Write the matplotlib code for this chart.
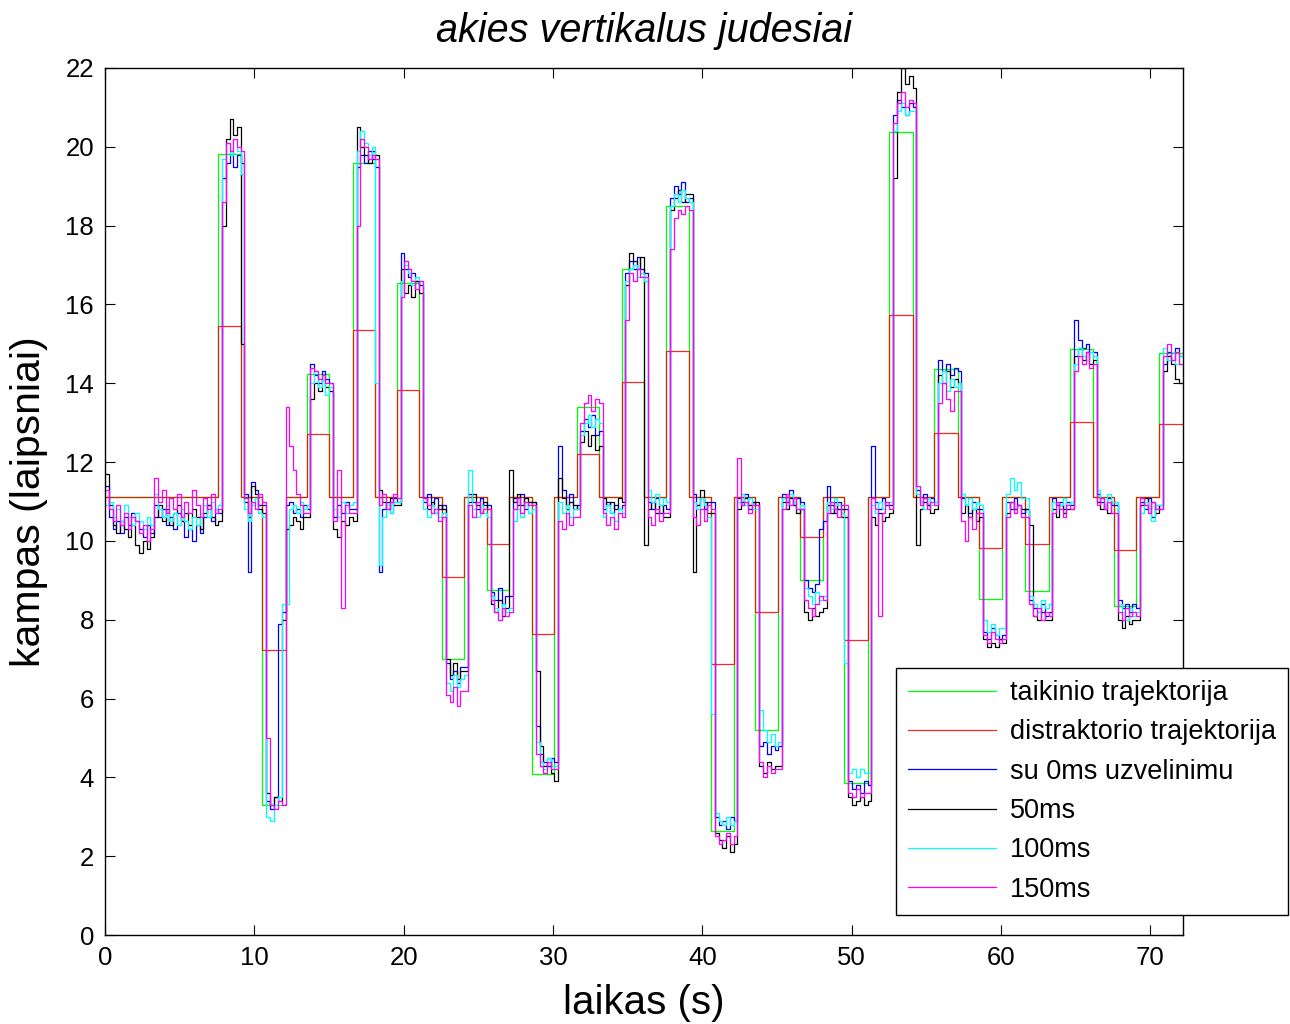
import matplotlib
matplotlib.use("Agg")
import matplotlib.pyplot as plt

plt.rcParams['font.family'] = ['Liberation Sans', 'DejaVu Sans']

# Segment boundaries (s) of the stimulus sequence
seg_edges = [0, 7.6, 9.1, 10.5, 12.1, 13.5, 15.0, 16.6, 18.1, 19.55, 21.0, 22.6,
             24.05, 25.6, 27.05, 28.6, 30.1, 31.6, 33.07, 34.6, 36.1, 37.6, 39.1,
             40.6, 42.1, 43.55, 45.1, 46.55, 48.1, 49.5, 51.1, 52.5, 54.1, 55.5,
             57.1, 58.55, 60.1, 61.6, 63.2, 64.6, 66.2, 67.6, 69.05, 70.6, 72.2]

# Target and distractor angle in each segment (deg)
target_levels = [11.12, 19.83, 11.12, 3.31, 11.12, 14.23, 11.12, 19.6, 11.12, 16.54,
                 11.12, 7.0, 11.12, 8.75, 11.12, 4.08, 11.12, 13.41, 11.12, 16.9,
                 11.12, 18.5, 11.12, 2.65, 11.12, 5.21, 11.12, 9.0, 11.12, 3.86,
                 11.12, 20.38, 11.12, 14.36, 11.12, 8.52, 11.12, 8.74, 11.12, 14.87,
                 11.12, 8.36, 11.12, 14.76]
distractor_levels = [11.12, 15.46, 11.12, 7.23, 11.12, 12.71, 11.12, 15.35, 11.12, 13.83,
                     11.12, 9.08, 11.12, 9.93, 11.12, 7.64, 11.12, 12.21, 11.12, 14.03,
                     11.12, 14.82, 11.12, 6.88, 11.12, 8.19, 11.12, 10.1, 11.12, 7.49,
                     11.12, 15.74, 11.12, 12.75, 11.12, 9.82, 11.12, 9.93, 11.12, 13.02,
                     11.12, 9.78, 11.12, 12.97]

# Eye position samples, one list per segment (evenly spaced inside the segment)
eye_0ms = [
    [11.4, 10.6, 10.3, 10.5, 10.2, 10.6, 10.4, 10.7, 10.5, 10.3, 10.1, 10.4, 10.2, 10.9, 10.6,
     10.8, 10.4, 10.6, 10.3, 10.7, 10.5, 10.1, 10.3, 10.0, 10.4, 10.2, 10.6, 10.9, 10.5, 10.8],
    [10.7, 19.2, 19.6, 19.9, 19.5, 19.8],
    [19.6, 11.2, 9.2, 11.5, 11.3, 10.9],
    [10.9, 3.4, 3.2, 3.5, 7.9, 8.2],
    [10.9, 11.0, 10.7, 10.8, 10.6, 10.9],
    [10.8, 14.5, 14.2, 14.0, 14.3, 14.1],
    [14.0, 10.6, 10.9, 10.7, 11.0, 10.8],
    [10.8, 19.5, 19.8, 19.6, 19.9, 19.7],
    [19.5, 9.2, 10.8, 11.0, 10.7, 11.1],
    [11.0, 17.3, 16.9, 16.7, 16.8, 16.6],
    [16.5, 11.0, 11.2, 10.9, 11.1, 10.8],
    [10.9, 6.9, 6.5, 6.7, 6.4, 6.8],
    [6.8, 11.2, 11.0, 10.8, 11.1, 10.9],
    [10.9, 8.7, 8.5, 8.8, 8.4, 8.6],
    [8.6, 11.1, 10.9, 11.2, 10.8, 11.0],
    [11.0, 5.3, 4.6, 4.4, 4.3, 4.5],
    [4.4, 12.4, 11.3, 10.9, 11.2, 10.8],
    [10.9, 12.8, 13.1, 12.9, 13.2, 12.7],
    [12.8, 10.8, 11.0, 10.7, 10.9, 10.8],
    [10.9, 16.8, 17.1, 16.9, 17.2, 16.9],
    [16.8, 11.0, 10.8, 11.1, 10.7, 10.9],
    [10.8, 18.7, 19.0, 18.8, 19.1, 18.6],
    [18.7, 11.2, 10.9, 11.1, 10.8, 11.0],
    [11.0, 3.0, 2.8, 2.9, 2.7, 3.0],
    [2.9, 11.1, 10.9, 11.2, 10.8, 11.0],
    [10.9, 4.8, 4.9, 4.6, 4.8, 4.7],
    [4.8, 11.2, 11.0, 11.3, 10.9, 11.1],
    [11.0, 9.0, 8.8, 8.7, 8.9, 10.3],
    [10.5, 11.4, 10.9, 10.7, 11.0, 10.8],
    [10.8, 3.9, 3.7, 3.8, 3.6, 3.9],
    [3.8, 12.4, 11.0, 10.8, 11.1, 10.9],
    [10.9, 20.8, 21.2, 21.0, 20.8, 21.1],
    [21.0, 11.3, 11.0, 11.2, 10.9, 11.1],
    [11.0, 14.6, 14.3, 14.5, 14.2, 14.4],
    [14.3, 11.1, 10.9, 10.7, 11.0, 10.8],
    [10.8, 7.7, 7.5, 7.8, 7.6, 7.5],
    [7.6, 11.0, 10.8, 11.1, 10.9, 10.7],
    [10.8, 8.5, 8.3, 8.2, 8.4, 8.1],
    [8.2, 11.1, 10.9, 11.0, 10.8, 11.0],
    [10.9, 15.6, 15.1, 14.9, 15.0, 14.8],
    [14.8, 11.2, 11.0, 10.8, 11.1, 10.9],
    [10.9, 8.5, 8.3, 8.4, 8.2, 8.4],
    [8.3, 11.0, 10.8, 11.1, 10.6, 10.9],
    [10.8, 14.5, 14.8, 14.6, 14.9, 14.7],
]

eye_50ms = [
    [11.7, 10.9, 10.4, 10.2, 10.5, 10.3, 10.1, 10.4, 9.9, 9.7, 10.0, 9.8, 10.1, 10.6, 10.9,
     10.5, 10.8, 10.4, 10.7, 10.9, 10.5, 10.7, 10.4, 10.8, 10.6, 10.3, 10.7, 10.9, 10.6, 10.4],
    [10.5, 18.0, 20.2, 20.7, 20.3, 20.5],
    [15.0, 11.0, 10.6, 11.4, 11.2, 10.8],
    [10.7, 3.6, 3.3, 3.5, 3.4, 8.0],
    [10.3, 10.4, 10.6, 10.5, 10.3, 10.6],
    [10.6, 13.6, 14.0, 13.8, 14.1, 13.9],
    [13.8, 10.3, 10.1, 10.5, 10.4, 10.6],
    [10.5, 20.5, 20.0, 19.8, 19.6, 19.9],
    [19.8, 11.3, 11.0, 10.8, 11.1, 10.9],
    [10.9, 16.9, 16.3, 16.5, 16.2, 16.6],
    [16.3, 11.1, 10.8, 11.0, 10.7, 10.9],
    [10.8, 7.0, 6.6, 6.9, 6.5, 6.7],
    [6.7, 11.0, 11.2, 10.9, 10.7, 11.0],
    [10.8, 8.4, 8.2, 8.5, 8.1, 8.3],
    [11.8, 11.0, 11.2, 10.9, 11.1, 11.0],
    [11.0, 6.7, 4.8, 4.3, 4.5, 4.1],
    [3.9, 11.6, 11.1, 10.8, 11.0, 10.9],
    [10.8, 12.5, 12.8, 12.4, 12.7, 12.3],
    [12.4, 11.1, 10.9, 11.0, 10.8, 11.1],
    [11.0, 16.5, 17.3, 17.1, 16.9, 17.2],
    [9.9, 10.8, 11.0, 10.7, 10.9, 10.6],
    [10.6, 18.4, 18.7, 18.9, 18.6, 18.8],
    [18.8, 9.2, 10.9, 11.3, 11.0, 10.7],
    [10.7, 2.6, 2.4, 2.2, 2.5, 2.1],
    [2.3, 10.8, 11.0, 11.1, 10.9, 11.0],
    [11.0, 4.3, 4.1, 4.4, 4.2, 4.3],
    [4.3, 11.0, 10.8, 11.1, 10.9, 10.7],
    [10.8, 8.2, 8.0, 8.3, 8.1, 8.2],
    [8.3, 10.9, 10.7, 11.0, 10.8, 10.6],
    [10.6, 3.5, 3.3, 3.4, 3.5, 3.3],
    [3.4, 10.6, 10.4, 10.7, 10.5, 10.6],
    [10.7, 19.2, 21.4, 22.0, 21.6, 21.8],
    [21.5, 9.9, 10.8, 11.0, 10.9, 10.7],
    [10.8, 14.2, 14.0, 14.3, 13.9, 14.1],
    [14.0, 10.7, 10.9, 10.6, 10.8, 10.5],
    [10.6, 7.5, 7.3, 7.4, 7.3, 7.5],
    [7.4, 10.7, 11.0, 10.8, 10.9, 10.8],
    [10.8, 10.4, 8.1, 8.0, 8.2, 8.0],
    [8.0, 10.8, 10.6, 10.9, 10.7, 10.8],
    [10.8, 14.7, 14.9, 14.6, 14.8, 14.5],
    [14.6, 11.0, 10.8, 10.9, 10.7, 11.0],
    [11.0, 8.0, 7.8, 8.1, 7.9, 8.0],
    [8.0, 10.9, 11.1, 10.8, 11.0, 10.7],
    [10.9, 14.3, 14.7, 14.5, 14.1, 14.0],
]

eye_100ms = [
    [10.9, 11.0, 10.6, 10.8, 10.5, 10.9, 10.6, 10.4, 10.7, 10.5, 10.3, 10.6, 10.4, 11.2, 10.8,
     10.6, 10.9, 10.5, 10.7, 10.4, 10.8, 10.5, 10.3, 10.6, 10.4, 10.7, 10.9, 10.6, 11.0, 10.8],
    [10.9, 19.7, 20.1, 19.8, 20.2, 19.9],
    [19.3, 10.8, 10.5, 10.9, 11.1, 10.7],
    [10.6, 3.0, 2.9, 3.3, 3.5, 8.4],
    [8.4, 10.8, 10.9, 10.7, 11.0, 10.8],
    [10.9, 14.0, 14.3, 13.9, 14.1, 13.7],
    [13.9, 10.8, 10.6, 11.0, 10.7, 10.9],
    [11.0, 19.9, 20.4, 20.1, 19.8, 20.0],
    [14.0, 9.4, 10.6, 10.9, 10.7, 11.0],
    [11.0, 16.6, 17.0, 16.8, 16.5, 16.7],
    [16.6, 10.8, 10.6, 10.9, 10.7, 10.6],
    [10.7, 6.4, 6.2, 6.6, 6.3, 6.5],
    [6.6, 11.8, 10.8, 10.6, 10.9, 10.7],
    [10.6, 8.6, 8.3, 8.0, 8.4, 8.2],
    [8.3, 10.5, 10.8, 10.6, 10.9, 10.7],
    [10.8, 4.9, 4.4, 4.2, 4.5, 4.3],
    [4.3, 11.0, 10.7, 10.9, 10.6, 10.8],
    [10.8, 12.7, 13.0, 13.2, 12.9, 13.1],
    [13.0, 10.6, 10.9, 10.7, 10.5, 10.8],
    [10.7, 16.6, 16.9, 17.0, 16.7, 16.8],
    [16.6, 11.3, 11.0, 11.2, 10.9, 11.1],
    [11.0, 18.5, 18.8, 18.6, 18.9, 18.7],
    [18.6, 11.0, 10.8, 11.1, 10.9, 10.6],
    [5.6, 3.1, 2.9, 2.8, 3.0, 2.8],
    [2.9, 11.0, 11.2, 10.9, 11.1, 10.8],
    [10.8, 5.7, 5.2, 4.9, 5.1, 4.8],
    [4.9, 11.1, 10.9, 11.2, 11.0, 10.8],
    [10.9, 8.8, 8.6, 8.4, 8.7, 8.5],
    [8.6, 11.0, 10.8, 11.1, 10.9, 10.7],
    [6.9, 4.1, 4.2, 4.0, 4.2, 4.1],
    [4.1, 10.9, 10.7, 11.0, 10.8, 11.0],
    [11.0, 20.4, 20.9, 21.1, 20.8, 20.9],
    [20.9, 11.2, 11.0, 10.8, 11.1, 10.9],
    [11.0, 14.0, 14.3, 13.8, 14.1, 13.9],
    [14.0, 11.2, 10.9, 11.1, 10.8, 11.0],
    [10.9, 8.0, 7.7, 7.9, 7.6, 7.8],
    [7.8, 11.2, 11.6, 11.3, 11.5, 11.1],
    [11.1, 8.6, 8.4, 8.2, 8.5, 8.3],
    [8.4, 11.0, 10.8, 10.9, 11.1, 10.9],
    [11.0, 14.5, 14.9, 14.7, 14.6, 14.8],
    [14.7, 11.3, 11.1, 10.9, 11.2, 11.0],
    [11.0, 8.4, 8.2, 8.0, 8.3, 8.1],
    [8.2, 10.7, 11.0, 10.8, 10.5, 10.9],
    [10.9, 14.9, 14.6, 14.8, 14.5, 14.7],
]

eye_150ms = [
    [11.3, 10.8, 10.5, 10.9, 10.4, 10.7, 10.3, 10.6, 10.5, 10.2, 10.4, 10.0, 10.3, 11.6, 11.0,
     11.3, 10.7, 11.1, 10.8, 11.2, 10.6, 11.0, 10.7, 11.3, 10.9, 10.6, 11.1, 10.8, 11.2, 10.7],
    [10.8, 18.6, 20.1, 19.9, 20.2, 20.0],
    [19.9, 11.1, 10.7, 11.0, 10.8, 11.2],
    [11.0, 5.0, 3.3, 3.2, 3.4, 3.3],
    [13.4, 12.4, 11.8, 11.2, 10.9, 10.7],
    [10.7, 14.4, 14.3, 14.1, 14.2, 14.0],
    [14.0, 10.5, 11.8, 8.3, 10.9, 10.7],
    [10.7, 18.0, 20.2, 20.0, 19.7, 19.8],
    [19.7, 10.9, 11.2, 10.8, 11.0, 11.2],
    [11.1, 16.2, 17.1, 16.9, 16.6, 16.4],
    [16.6, 11.1, 10.9, 10.7, 10.8, 10.5],
    [10.6, 6.1, 5.9, 6.3, 5.8, 6.2],
    [6.2, 10.9, 10.6, 11.0, 10.7, 10.8],
    [10.8, 8.5, 8.2, 8.0, 8.3, 8.1],
    [8.2, 10.8, 11.1, 10.7, 11.0, 10.9],
    [10.9, 4.6, 4.3, 4.1, 4.4, 4.2],
    [4.2, 10.5, 10.3, 10.7, 10.4, 10.6],
    [10.6, 13.0, 13.5, 13.7, 13.3, 13.6],
    [13.5, 10.7, 10.4, 10.6, 10.3, 10.7],
    [10.6, 15.6, 16.8, 16.6, 16.9, 16.7],
    [16.7, 10.6, 10.4, 10.8, 10.5, 10.7],
    [10.7, 17.4, 18.2, 18.4, 18.3, 18.5],
    [18.4, 10.6, 10.4, 10.8, 10.5, 10.9],
    [10.8, 2.5, 2.3, 2.4, 2.6, 2.3],
    [2.5, 12.1, 10.9, 11.0, 10.7, 10.9],
    [10.9, 4.4, 4.0, 4.3, 4.1, 4.2],
    [4.2, 10.8, 11.2, 10.9, 11.1, 10.8],
    [10.8, 8.5, 8.3, 8.1, 8.4, 8.6],
    [8.5, 10.7, 11.0, 10.8, 10.6, 10.9],
    [10.9, 3.6, 3.5, 3.7, 3.5, 3.6],
    [3.6, 11.1, 10.8, 8.1, 10.7, 11.0],
    [10.8, 20.6, 21.1, 21.4, 21.0, 21.2],
    [21.1, 11.4, 10.9, 11.1, 10.8, 11.0],
    [10.9, 13.5, 14.0, 13.6, 13.3, 13.8],
    [13.8, 10.5, 10.0, 10.6, 10.3, 10.7],
    [10.7, 7.6, 7.4, 7.7, 7.5, 7.4],
    [7.5, 10.6, 11.0, 10.7, 10.9, 10.6],
    [10.6, 8.4, 8.1, 8.3, 8.0, 8.2],
    [8.1, 10.7, 11.0, 10.8, 10.6, 10.9],
    [10.8, 14.3, 14.7, 14.5, 14.8, 14.4],
    [14.5, 10.9, 11.1, 10.8, 11.0, 10.7],
    [10.7, 8.2, 8.0, 8.3, 8.1, 8.2],
    [8.1, 11.1, 10.9, 10.7, 11.0, 10.8],
    [10.8, 14.7, 15.0, 14.6, 14.8, 14.5],
]

series_labels = ['taikinio trajektorija', 'distraktorio trajektorija',
                 'su 0ms uzvelinimu', '50ms', '100ms', '150ms']
x_ticks = [0, 10, 20, 30, 40, 50, 60, 70]
y_ticks = [0, 2, 4, 6, 8, 10, 12, 14, 16, 18, 20, 22]


def level_steps(levels):
    return list(seg_edges), list(levels) + [levels[-1]]


def trace_steps(blocks):
    xs, ys = [], []
    for i, vals in enumerate(blocks):
        t0, t1 = seg_edges[i], seg_edges[i + 1]
        n = len(vals)
        for k, v in enumerate(vals):
            xs.append(t0 + (t1 - t0) * k / n)
            ys.append(v)
    xs.append(seg_edges[-1])
    ys.append(blocks[-1][-1])
    return xs, ys


fig = plt.figure(figsize=(12.9, 10.24), dpi=100)
ax = fig.add_axes([0.0814, 0.0869, 0.8357, 0.8467])

lw = 0.9
x, y = level_steps(target_levels)
ax.plot(x, y, drawstyle='steps-post', color=(0, 1, 0), lw=lw, label=series_labels[0])
x, y = level_steps(distractor_levels)
ax.plot(x, y, drawstyle='steps-post', color=(1, 0, 0), lw=lw, alpha=0.85, label=series_labels[1])

for blocks, col, lab in [(eye_0ms, (0, 0, 1), series_labels[2]),
                         (eye_50ms, (0, 0, 0), series_labels[3]),
                         (eye_100ms, (0, 1, 1), series_labels[4]),
                         (eye_150ms, (1, 0, 1), series_labels[5])]:
    x, y = trace_steps(blocks)
    ax.plot(x, y, drawstyle='steps-post', color=col, lw=lw, label=lab)

ax.set_xlim(0, 72.2)
ax.set_ylim(0, 22)
ax.set_xticks(x_ticks)
ax.set_yticks(y_ticks)
ax.tick_params(direction='in', length=7, width=0.8, top=True, right=True,
               labelsize=18.5, pad=8)
for sp in ax.spines.values():
    sp.set_linewidth(1.0)

ax.set_title('akies vertikalus judesiai', fontsize=28.5, style='italic', pad=19)
ax.set_xlabel('laikas (s)', fontsize=29, labelpad=10)
ax.set_ylabel('kampas (laipsniai)', fontsize=29.5, labelpad=12)

leg = fig.legend(loc='upper left', bbox_to_anchor=(896 / 1290, 1 - 668 / 1024),
                 bbox_transform=fig.transFigure, fontsize=19.5, frameon=True,
                 fancybox=False, shadow=False, framealpha=1, edgecolor='black',
                 handlelength=3.25, handletextpad=0.5, labelspacing=0.49,
                 borderpad=0.45, borderaxespad=0)
leg.get_frame().set_linewidth(1.0)

fig.savefig('out.png', dpi=100)
